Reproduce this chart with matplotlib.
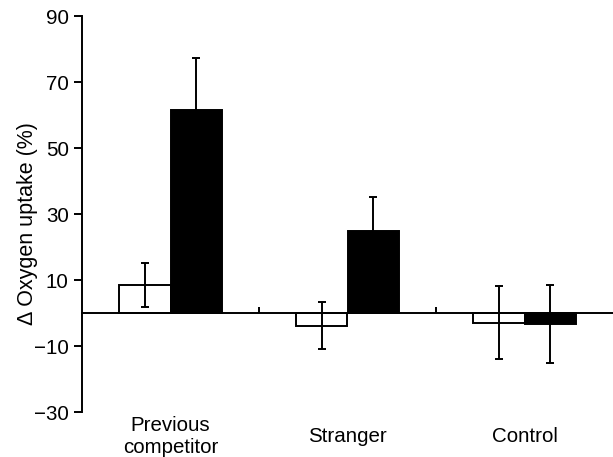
import matplotlib
matplotlib.use("Agg")
import matplotlib.pyplot as plt
import numpy as np

plt.rcParams['font.family'] = ['Liberation Sans', 'DejaVu Sans']

# Data
categories = ["Previous\ncompetitor", "Stranger", "Control"]
white_vals = [8.5, -3.8, -2.9]
white_err = [6.8, 7.2, 11.0]
black_vals = [61.5, 24.9, -3.3]
black_err = [15.8, 10.3, 11.8]
yticks = [-30, -10, 10, 30, 50, 70, 90]

fig = plt.figure(figsize=(6.13, 4.57), dpi=100)
ax = fig.add_axes([82 / 613, 45 / 457, 531 / 613, 396 / 457])

x = np.arange(len(categories))
w = 0.29
lw = 1.4

ax.bar(x - w / 2, white_vals, w, color="white", edgecolor="black", linewidth=lw, zorder=2)
ax.bar(x + w / 2, black_vals, w, color="black", edgecolor="black", linewidth=lw, zorder=2)
ax.errorbar(x - w / 2, white_vals, yerr=white_err, fmt="none", ecolor="black",
            elinewidth=lw, capsize=2.6, capthick=lw, zorder=3)
ax.errorbar(x + w / 2, black_vals, yerr=black_err, fmt="none", ecolor="black",
            elinewidth=lw, capsize=2.6, capthick=lw, zorder=3)

ax.set_xlim(-0.5, 2.5)
ax.set_ylim(-30, 90)
ax.set_yticks(yticks)
ax.tick_params(axis="y", direction="out", length=6, width=lw, labelsize=14.8, pad=3.5)

# zero line acts as x axis with small ticks between groups
ax.spines["top"].set_visible(False)
ax.spines["right"].set_visible(False)
ax.spines["left"].set_linewidth(lw)
ax.spines["bottom"].set_position(("data", 0))
ax.spines["bottom"].set_linewidth(lw)
ax.spines["bottom"].set_zorder(4)
ax.set_xticks([0.5, 1.5])
ax.set_xticklabels([])
ax.tick_params(axis="x", direction="in", length=4, width=lw)

for xi, name in zip(x, categories):
    ax.annotate(name, xy=(xi, 0), xycoords=("data", "axes fraction"),
                xytext=(0, -17.5), textcoords="offset points",
                ha="center", va="center", fontsize=14.8, linespacing=1.2)

ax.set_ylabel("Δ Oxygen uptake (%)", fontsize=15.5)
ax.yaxis.set_label_coords(-0.083, 0.477)

fig.savefig("out.png", dpi=100)
